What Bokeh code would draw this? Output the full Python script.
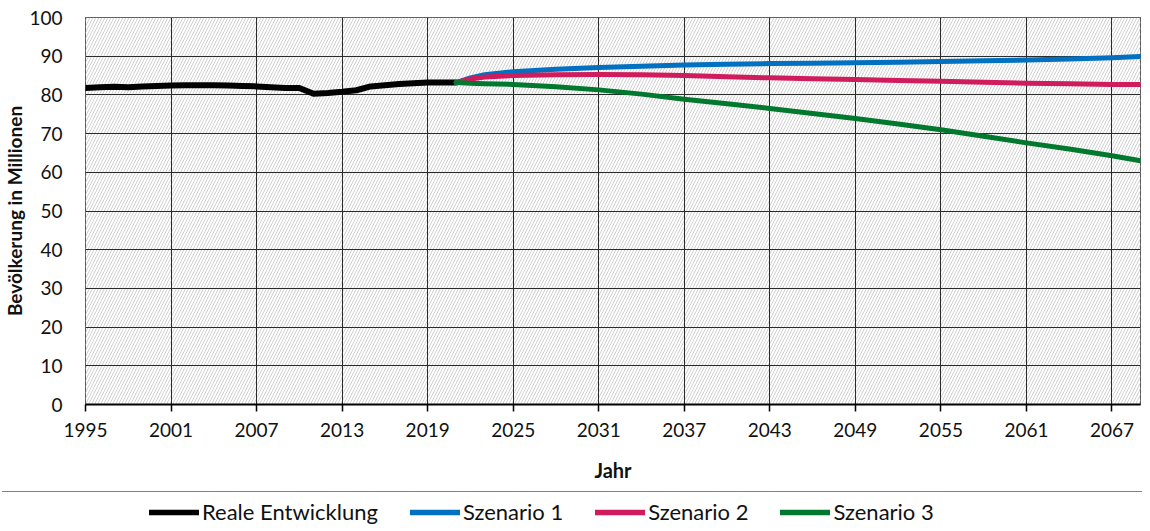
from bokeh.plotting import figure
from bokeh.models import Range1d, FixedTicker, BoxAnnotation, Legend, LegendItem, Div
from bokeh.layouts import column
from bokeh.embed import file_html
from bokeh.resources import INLINE

# ---------------- data ----------------
years_real = list(range(1995, 2022))
pop_real = [81.8, 82.0, 82.1, 82.0, 82.2, 82.3, 82.4, 82.5, 82.5, 82.5,
            82.4, 82.3, 82.2, 82.0, 81.8, 81.8, 80.3, 80.5, 80.8, 81.2,
            82.2, 82.5, 82.8, 83.0, 83.2, 83.2, 83.2]

years_scen = [2021, 2022, 2023, 2025, 2028, 2031, 2034, 2037, 2040, 2043,
              2046, 2049, 2052, 2055, 2058, 2061, 2064, 2067, 2069]
scen1 = [83.2, 84.4, 85.2, 86.0, 86.6, 87.1, 87.4, 87.7, 87.9, 88.1,
         88.2, 88.3, 88.45, 88.6, 88.8, 89.0, 89.3, 89.6, 89.9]
scen2 = [83.2, 84.1, 84.6, 85.0, 85.2, 85.3, 85.2, 85.0, 84.7, 84.4,
         84.2, 84.0, 83.75, 83.5, 83.25, 83.0, 82.85, 82.7, 82.7]
scen3 = [83.2, 83.0, 82.9, 82.7, 82.1, 81.3, 80.2, 78.9, 77.7, 76.5,
         75.2, 73.9, 72.5, 71.0, 69.3, 67.6, 66.0, 64.3, 63.0]

x_ticks = list(range(1995, 2068, 6))
y_ticks = list(range(0, 101, 10))

series_names = ["Reale Entwicklung", "Szenario 1", "Szenario 2", "Szenario 3"]
series_colors = ["#000000", "#0070C0", "#D01C5C", "#00782D"]
series_x = [years_real, years_scen, years_scen, years_scen]
series_y = [pop_real, scen1, scen2, scen3]
series_w = [6, 5, 5, 5]

FONT = "Lato"

# ---------------- main figure ----------------
p = figure(width=1142, height=486, x_range=Range1d(1995, 2069), y_range=Range1d(0, 100),
           output_backend="svg", toolbar_location=None,
           min_border_left=80, min_border_right=2, min_border_top=17, min_border_bottom=82)
p.background_fill_color = "white"
p.border_fill_color = "white"
p.outline_line_color = "#222222"
p.outline_line_width = 1

# hatched plot area
p.add_layout(BoxAnnotation(level="image", fill_color="white", fill_alpha=1.0, line_color=None,
                           hatch_pattern="/", hatch_color="#d0d0d0", hatch_alpha=1.0,
                           hatch_scale=6, hatch_weight=1.0))

p.xgrid.ticker = FixedTicker(ticks=x_ticks)
p.ygrid.ticker = FixedTicker(ticks=y_ticks)
for g in (p.xgrid, p.ygrid):
    g.grid_line_color = "#2a2a2a"
    g.grid_line_width = 1

xa = p.xaxis[0]
xa.ticker = FixedTicker(ticks=x_ticks)
xa.major_tick_out = 7
xa.major_tick_in = 0
xa.minor_tick_line_color = None
xa.axis_line_color = "black"
xa.axis_line_width = 2
xa.major_tick_line_color = "black"
xa.major_tick_line_width = 1.5
xa.major_label_standoff = 11
xa.major_label_text_font = FONT
xa.major_label_text_font_size = "19px"
xa.major_label_text_color = "#111111"
xa.axis_label = "Jahr"
xa.axis_label_text_font = FONT
xa.axis_label_text_font_style = "bold"
xa.axis_label_text_font_size = "20px"
xa.axis_label_text_color = "#111111"
xa.axis_label_standoff = 18

ya = p.yaxis[0]
ya.ticker = FixedTicker(ticks=y_ticks)
ya.major_tick_out = 0
ya.major_tick_in = 0
ya.minor_tick_line_color = None
ya.axis_line_color = None
ya.major_tick_line_color = None
ya.major_label_standoff = 23
ya.major_label_text_font = FONT
ya.major_label_text_font_size = "19px"
ya.major_label_text_color = "#111111"
ya.axis_label = "Bevölkerung in Millionen"
ya.axis_label_text_font = FONT
ya.axis_label_text_font_style = "bold"
ya.axis_label_text_font_size = "19px"
ya.axis_label_text_color = "#111111"
ya.axis_label_standoff = 0

for xs, ys, col, w in zip(series_x, series_y, series_colors, series_w):
    p.line(xs, ys, line_color=col, line_width=w, line_cap="round", line_join="round")

# ---------------- separator line (full width) ----------------
sep = Div(text="", width=1140, height=1, margin=(5, 0, 0, 2),
          styles={"background-color": "#808080"})

# ---------------- legend strip ----------------
leg = figure(width=1142, height=33, x_range=Range1d(0, 1), y_range=Range1d(0, 33),
             output_backend="svg", toolbar_location=None, x_axis_type=None, y_axis_type=None,
             min_border_left=80, min_border_right=2, min_border_top=0, min_border_bottom=0)
leg.grid.visible = False
leg.outline_line_color = None
leg.background_fill_color = "white"
leg.border_fill_color = "white"

# legend renderers use the same series (they fall outside this strip's ranges)
leg_renderers = []
for xs, ys, col in zip(series_x, series_y, series_colors):
    leg_renderers.append(leg.line(xs, ys, line_color=col, line_width=5.5, line_cap="round"))

legend = Legend(items=[LegendItem(label=n, renderers=[r]) for n, r in zip(series_names, leg_renderers)],
                location=(64, 0), orientation="horizontal", padding=0, margin=0,
                spacing=32, label_standoff=3, glyph_width=50, glyph_height=20, label_height=20,
                border_line_color=None, background_fill_alpha=0,
                label_text_font=FONT, label_text_font_size="22px", label_text_color="#111111")
leg.add_layout(legend, "center")

layout = column(p, sep, leg, spacing=0)
open("out.html", "w").write(file_html(layout, INLINE))
